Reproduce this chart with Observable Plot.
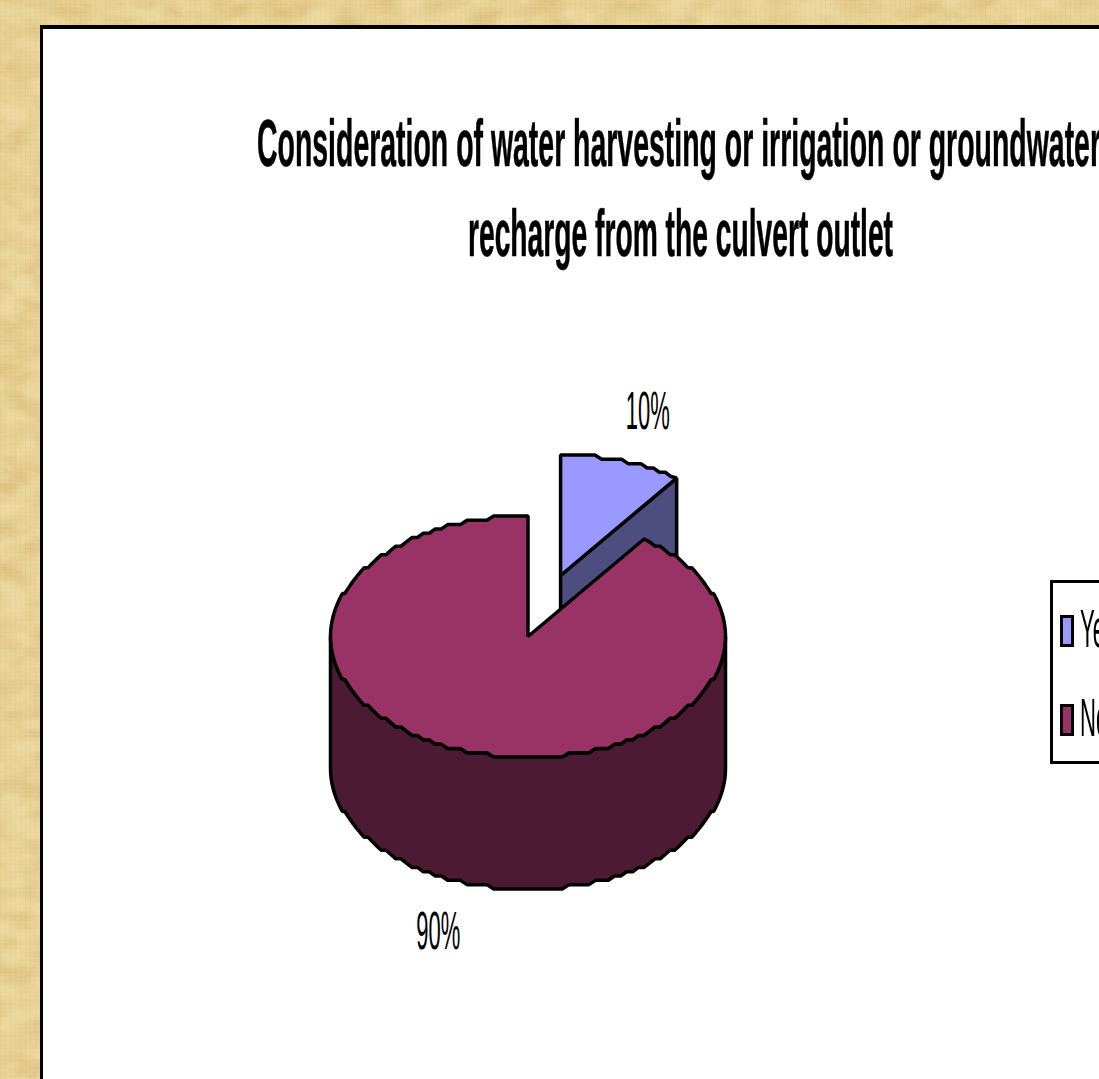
<!DOCTYPE html>
<html>
<head>
<meta charset="utf-8">
<title>Consideration of water harvesting</title>
<script src="https://cdn.jsdelivr.net/npm/d3@7"></script>
<script src="https://cdn.jsdelivr.net/npm/@observablehq/plot@0.6"></script>
<style>
  html, body { margin: 0; padding: 0; width: 1099px; height: 1079px; overflow: hidden; }
  body {
    position: relative;
    font-family: "Liberation Sans", Arial, sans-serif;
    background-color: #ecd89e;
    background-image:
      repeating-linear-gradient(90deg, rgba(150,115,50,.05) 0 1px, transparent 1px 5px),
      repeating-linear-gradient(0deg, rgba(255,245,210,.07) 0 1px, transparent 1px 4px),
      url("data:image/svg+xml;utf8,<svg xmlns='http://www.w3.org/2000/svg' width='1099' height='1079'><filter id='n'><feTurbulence type='fractalNoise' baseFrequency='0.03 0.05' numOctaves='4' seed='7'/><feColorMatrix values='0 0 0 0 0.70  0 0 0 0 0.52  0 0 0 0 0.20  1.1 1.1 0 0 -0.78'/></filter><rect width='100%' height='100%' filter='url(%23n)'/></svg>");
  }
  #panel {
    position: absolute; left: 40px; top: 25px; width: 1200px; height: 1200px;
    background: #fff; border-left: 3px solid #000; border-top: 4px solid #000;
  }
  #chart { position: absolute; left: 0; top: 0; }
  #chart svg { display: block; background: transparent; }
  .title-line {
    position: absolute; font-weight: 700; font-size: 66px; line-height: 70px;
    color: #000; white-space: nowrap; transform-origin: left top;
    -webkit-text-stroke: .6px #000;
  }
  #legend {
    position: absolute; left: 1050px; top: 580px; width: 200px; height: 178px;
    border: 3px solid #000; background: #fff;
  }
  .key { position: absolute; left: 7px; width: 8px; height: 26px; border: 3.5px solid #000; }
  .key-label {
    position: absolute; left: 27px; font-size: 54px; line-height: 60px; color: #000;
    white-space: nowrap; transform: scaleX(.41); transform-origin: left top;
  }
</style>
</head>
<body>
<div id="panel"></div>
<div id="chart"></div>
<script>
// Survey answers, in percent, with their top and side face colours.
const answers = ["Yes", "No"];
const shares = [10, 90];
const topColors = ["#9999ff", "#993366"];
const sideColors = ["#4d4d80", "#4d1a33"];
const titleLines = [
  "Consideration of water harvesting or irrigation or groundwater",
  "recharge from the culvert outlet"
];

// Pie geometry in radius units; the x and y scales carry the perspective squash.
const depth = 1.095;
const explode = {x: 0.165, y: 0.506};
const labelReach = [1.43, 1.47];
const labelLift = [0, 0.04];
const gridY = 1 / 28;
const angleStep = 2;

const width = 1099, height = 1079;
const center = {x: 527.5, y: 636}, radius = {x: 197.5, y: 120.5};

const rad = deg => deg * Math.PI / 180;

// Ellipse rim with the coarse stepped outline of the drawing; vertices sit on a
// shared angle grid so the wall and the top face trace the same edge.
const arc = (from, to, dx = 0, dy = 0) => {
  const lo = Math.min(from, to), hi = Math.max(from, to);
  const inner = d3.range(Math.ceil(lo / angleStep + 1e-6), hi / angleStep).map(k => k * angleStep);
  const angles = [lo, ...inner, hi];
  const pts = angles.map((t, i) => {
    const edge = i === 0 || i === angles.length - 1;
    const y = Math.cos(rad(t));
    return {x: Math.sin(rad(t)) + dx, y: (edge ? y : Math.round(y / gridY) * gridY) + dy};
  });
  return from <= to ? pts : pts.reverse();
};

const total = d3.sum(shares);
const bounds = shares.map((s, i) => {
  const start = d3.sum(shares.slice(0, i)) / total * 360;
  return [start, start + s / total * 360];
});
const mids = bounds.map(([a, b]) => (a + b) / 2);

const [yesFrom, yesTo] = bounds[0];
const [noFrom, noTo] = bounds[1];

// The exploded slice: its cut wall shows below the top face.
const yesEnd = {x: Math.sin(rad(yesTo)) + explode.x, y: Math.cos(rad(yesTo)) + explode.y};
const yesWall = [
  explode,
  yesEnd,
  {x: yesEnd.x, y: yesEnd.y - depth},
  {x: explode.x, y: explode.y - depth}
];
const yesTop = [explode, ...arc(yesFrom, yesTo, explode.x, explode.y)];

// The main slice: outer wall along the near half, then the top face.
const noWall = [...arc(90, 270), ...arc(270, 90, 0, -depth)];
const noTop = [{x: 0, y: 0}, ...arc(noFrom, noTo)];

const percentLabels = [
  {
    text: `${shares[0]}%`,
    x: explode.x + Math.sin(rad(mids[0])) * labelReach[0],
    y: explode.y + Math.cos(rad(mids[0])) * labelReach[0] + labelLift[0]
  },
  {
    text: `${shares[1]}%`,
    x: Math.sin(rad(mids[1])) * labelReach[1],
    y: Math.cos(rad(mids[1])) * labelReach[1] - depth + labelLift[1]
  }
];

const face = (points, fill) => Plot.line(points, {
  x: "x", y: "y", fill, stroke: "#000", strokeWidth: 3.5,
  curve: "linear-closed", strokeLinejoin: "miter"
});

const chart = Plot.plot({
  width, height,
  margin: 0,
  style: {background: "transparent"},
  x: {domain: [-center.x / radius.x, (width - center.x) / radius.x], range: [0, width], axis: null},
  y: {domain: [(center.y - height) / radius.y, center.y / radius.y], range: [height, 0], axis: null},
  marks: [
    face(yesWall, sideColors[0]),
    face(yesTop, topColors[0]),
    face(noWall, sideColors[1]),
    face(noTop, topColors[1]),
    Plot.text(percentLabels, {
      x: "x", y: "y", text: "text",
      fontFamily: "Liberation Sans, Arial, sans-serif",
      fontSize: 54, fill: "#000", textAnchor: "middle"
    })
  ]
});

// The percent labels use a narrow setting of the face.
chart.querySelectorAll("text").forEach(t => {
  t.setAttribute("textLength", 44);
  t.setAttribute("lengthAdjust", "spacingAndGlyphs");
});
document.getElementById("chart").append(chart);

// Title lines, squeezed horizontally to their set widths.
const titleSpans = [[257, 1101], [468, 893]];
const titleTops = [108, 198];
titleLines.forEach((line, i) => {
  const el = document.createElement("div");
  el.className = "title-line";
  el.textContent = line;
  el.style.left = titleSpans[i][0] + "px";
  el.style.top = titleTops[i] + "px";
  document.body.append(el);
  const full = el.getBoundingClientRect().width;
  el.style.transform = `scaleX(${(titleSpans[i][1] - titleSpans[i][0]) / full})`;
});

// Legend box, running past the right edge of the page.
const legend = document.createElement("div");
legend.id = "legend";
answers.forEach((name, i) => {
  const key = document.createElement("div");
  key.className = "key";
  key.style.top = (32 + i * 89) + "px";
  key.style.background = topColors[i];
  const label = document.createElement("div");
  label.className = "key-label";
  label.style.top = (15 + i * 89) + "px";
  label.textContent = name;
  legend.append(key, label);
});
document.body.append(legend);
</script>
</body>
</html>
